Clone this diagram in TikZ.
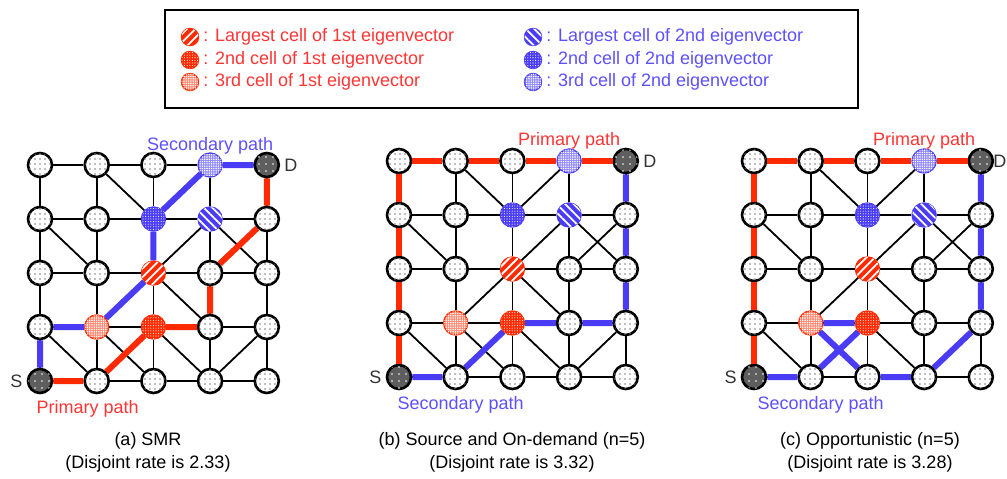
\documentclass[tikz,border=0pt]{standalone}
\usepackage{fontspec}
\setmainfont{Liberation Sans}
\usetikzlibrary{positioning,patterns.meta}
\definecolor{prim}{HTML}{FF2A00}
\definecolor{seco}{HTML}{4A3CF5}
\definecolor{primtxt}{HTML}{FF3535}
\definecolor{secotxt}{HTML}{5D50FF}
\definecolor{ends}{HTML}{5E5E5E}

\tikzset{
  ball/.style={circle, line width=2.6pt, minimum size=24pt, inner sep=0pt},
  cell/.style={ball, draw=black, fill=white,
    postaction={pattern={Dots[radius=0.9pt,distance=5pt]}, pattern color=black!50}},
  endcell/.style={ball, draw=black, fill=ends,
    postaction={pattern={Dots[radius=0.8pt,distance=7pt]}, pattern color=white}},
  eig/.style={ball, draw=#1, fill=#1, line width=1.4pt},
  r1/.style={eig=prim, postaction={pattern={Lines[angle=45,distance=6pt,line width=1.8pt]}, pattern color=white}},
  r2/.style={eig=prim, postaction={pattern={Dots[radius=0.55pt,distance=2.6pt]}, pattern color=white}},
  r3/.style={eig=prim!55, draw=prim, postaction={pattern={Dots[radius=0.8pt,distance=2.3pt]}, pattern color=white}},
  b1/.style={eig=seco, postaction={pattern={Lines[angle=-45,distance=6pt,line width=1.8pt]}, pattern color=white}},
  b2/.style={eig=seco, postaction={pattern={Dots[radius=0.55pt,distance=2.6pt]}, pattern color=white}},
  b3/.style={eig=seco!60, draw=seco, postaction={pattern={Dots[radius=0.8pt,distance=2.3pt]}, pattern color=white}},
}

% kind of every cell: column/row/style
\def\cellkinds{0/0/endcell,1/0/cell,2/0/cell,3/0/cell,4/0/cell,%
  0/1/cell,1/1/r3,2/1/r2,3/1/cell,4/1/cell,%
  0/2/cell,1/2/cell,2/2/r1,3/2/cell,4/2/cell,%
  0/3/cell,1/3/cell,2/3/b2,3/3/b1,4/3/cell,%
  0/4/cell,1/4/cell,2/4/cell,3/4/b3,4/4/endcell}

\begin{document}
\begin{tikzpicture}[x=1pt,y=-1pt,
  mesh/.style={line width=1.8pt},
  primpath/.style={prim, line width=6pt},
  secopath/.style={seco, line width=6pt},
  lbl/.style={font=\fontsize{18}{20}\selectfont, inner sep=1pt},
  primlbl/.style={lbl, text=primtxt},
  secolbl/.style={lbl, text=secotxt},
  endlbl/.style={lbl, text=black!80},
  captxt/.style={font=\fontsize{18}{23}\selectfont, align=center}]
  \useasboundingbox (0,0) rectangle (1007,479);

  % Legend
  \node[draw, line width=1.8pt, minimum width=693pt, minimum height=98pt, inner sep=0pt] (legend) at (511.5,59) {};
  \node[r1, minimum size=17pt] (lr1) at (190,37) {};
  \node[r2, minimum size=17pt] (lr2) at (190,60) {};
  \node[r3, minimum size=17pt] (lr3) at (190,82) {};
  \node[b1, minimum size=17pt] (lb1) at (533,37) {};
  \node[b2, minimum size=17pt] (lb2) at (533,60) {};
  \node[b3, minimum size=17pt] (lb3) at (533,82) {};
  \node[primlbl, right=3pt of lr1] (tr1) {: Largest cell of 1st eigenvector};
  \node[primlbl, right=3pt of lr2] (tr2) {: 2nd cell of 1st eigenvector};
  \node[primlbl, right=3pt of lr3] (tr3) {: 3rd cell of 1st eigenvector};
  \node[secolbl, right=3pt of lb1] (tb1) {: Largest cell of 2nd eigenvector};
  \node[secolbl, right=3pt of lb2] (tb2) {: 2nd cell of 2nd eigenvector};
  \node[secolbl, right=3pt of lb3] (tb3) {: 3rd cell of 2nd eigenvector};

  % The three meshes
  \foreach \p/\ox/\oy in {a/40/381,b/399/377,c/754/377}{
    \foreach \c/\r/\s in \cellkinds
      \node[\s] (\p\c\r) at ({\ox+\c*56.7},{\oy-\r*54}) {};
    \foreach \i in {0,...,4}
      \foreach \j [count=\k] in {0,...,3}{
        \draw[mesh] (\p\j\i) -- (\p\k\i);
        \draw[mesh] (\p\i\j) -- (\p\i\k);
      }
    \foreach \u/\v in {14/23,34/23,03/12,33/22,33/42,43/32,22/11,22/31,01/10,11/20,21/10,21/30,41/30}
      \draw[mesh] (\p\u) -- (\p\v);
  }

  % (a) SMR
  \draw[primpath] (a00) -- (a10) -- (a21) -- (a31) -- (a32) -- (a43) -- (a44);
  \draw[secopath] (a00) -- (a01) -- (a11) -- (a22) -- (a23) -- (a34) -- (a44);
  \node[secolbl, above=-3pt of a34] (secA) {Secondary path};
  \node[primlbl, below=5pt of a10, xshift=-9pt] (primA) {Primary path};
  \node[endlbl, left=3pt of a00] (sA) {S};
  \node[endlbl, right=3pt of a44] (dA) {D};
  \node[captxt] (capA) at (148,452) {(a) SMR\\(Disjoint rate is 2.33)};

  % (b) Source and On-demand
  \draw[primpath] (b00) -- (b01) -- (b02) -- (b03) -- (b04) -- (b14) -- (b24) -- (b34) -- (b44);
  \draw[secopath] (b00) -- (b10) -- (b21) -- (b31) -- (b41) -- (b42) -- (b43) -- (b44);
  \node[primlbl, above=-2pt of b34] (primB) {Primary path};
  \node[secolbl, below=5pt of b10, xshift=5pt] (secB) {Secondary path};
  \node[endlbl, left=3pt of b00] (sB) {S};
  \node[endlbl, right=3pt of b44] (dB) {D};
  \node[captxt] (capB) at (512,452) {(b) Source and On-demand (n=5)\\(Disjoint rate is 3.32)};

  % (c) Opportunistic
  \draw[primpath] (c00) -- (c01) -- (c02) -- (c03) -- (c04) -- (c14) -- (c24) -- (c34) -- (c44);
  \draw[secopath] (c00) -- (c10) -- (c21) -- (c11) -- (c20) -- (c30) -- (c41) -- (c42) -- (c43) -- (c44);
  \node[primlbl, above=-2pt of c34] (primC) {Primary path};
  \node[secolbl, below=5pt of c10, xshift=10pt] (secC) {Secondary path};
  \node[endlbl, left=3pt of c00] (sC) {S};
  \node[endlbl, right=-1pt of c44, inner sep=0pt] (dC) {D};
  \node[captxt] (capC) at (870,452) {(c) Opportunistic (n=5)\\(Disjoint rate is 3.28)};
\end{tikzpicture}
\end{document}
